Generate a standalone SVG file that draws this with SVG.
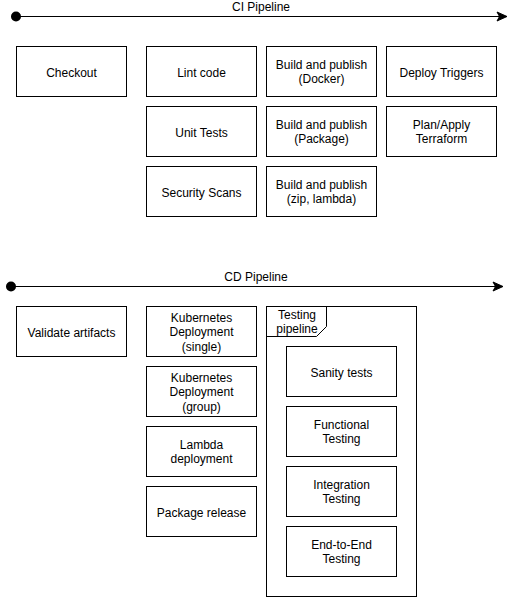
<svg xmlns="http://www.w3.org/2000/svg" width="518" height="597" viewBox="0 0 518 597">
<style>
rect.n{fill:#fff;stroke:#000;stroke-width:1}
text{font-family:"Liberation Sans",Arial,Helvetica,sans-serif;font-size:12px;fill:#000;text-anchor:middle}
.c{stroke:#000;stroke-width:1;fill:none}
</style>
<defs>
<marker id="arr" markerWidth="12" markerHeight="12" refX="11" refY="6" orient="auto" markerUnits="userSpaceOnUse">
<path d="M1,1.5 L11,6 L1,10.5 L3.5,6 Z" fill="#000" stroke="#000" stroke-width="1"/>
</marker>
<marker id="dot" markerWidth="12" markerHeight="12" refX="6" refY="6" orient="auto" markerUnits="userSpaceOnUse">
<circle cx="6" cy="6" r="5" fill="#000"/>
</marker>
</defs>
<g id="connectors">
<line class="c" x1="16" y1="16.5" x2="507" y2="16.5" marker-start="url(#dot)" marker-end="url(#arr)"/>
<text x="261" y="11">CI Pipeline</text>
<line class="c" x1="11" y1="286.5" x2="503" y2="286.5" marker-start="url(#dot)" marker-end="url(#arr)"/>
<text x="256" y="281">CD Pipeline</text>
</g>
<g id="checkout"><rect class="n" x="16.5" y="46.5" width="110" height="50"/><text x="71.5" y="77">Checkout</text></g>
<g id="lint"><rect class="n" x="146.5" y="46.5" width="110" height="50"/><text x="201.5" y="77">Lint code</text></g>
<g id="unit"><rect class="n" x="146.5" y="106.5" width="110" height="50"/><text x="201.5" y="137">Unit Tests</text></g>
<g id="security"><rect class="n" x="146.5" y="166.5" width="110" height="50"/><text x="201.5" y="197">Security Scans</text></g>
<g id="docker"><rect class="n" x="266.5" y="46.5" width="110" height="50"/><text x="321.5" y="69">Build and publish</text><text x="321.5" y="83">(Docker)</text></g>
<g id="package"><rect class="n" x="266.5" y="106.5" width="110" height="50"/><text x="321.5" y="129">Build and publish</text><text x="321.5" y="143">(Package)</text></g>
<g id="zip"><rect class="n" x="266.5" y="166.5" width="110" height="50"/><text x="321.5" y="189">Build and publish</text><text x="321.5" y="203">(zip, lambda)</text></g>
<g id="deploy-triggers"><rect class="n" x="386.5" y="46.5" width="110" height="50"/><text x="441.5" y="77">Deploy Triggers</text></g>
<g id="terraform"><rect class="n" x="386.5" y="106.5" width="110" height="50"/><text x="441.5" y="129">Plan/Apply</text><text x="441.5" y="143">Terraform</text></g>
<g id="validate"><rect class="n" x="16.5" y="306.5" width="110" height="50"/><text x="71.5" y="337">Validate artifacts</text></g>
<g id="k8s-single"><rect class="n" x="146.5" y="306.5" width="110" height="50"/><text x="201.5" y="321.5">Kubernetes</text><text x="201.5" y="336">Deployment</text><text x="201.5" y="350.5">(single)</text></g>
<g id="k8s-group"><rect class="n" x="146.5" y="366.5" width="110" height="50"/><text x="201.5" y="381.5">Kubernetes</text><text x="201.5" y="396">Deployment</text><text x="201.5" y="410.5">(group)</text></g>
<g id="lambda"><rect class="n" x="146.5" y="426.5" width="110" height="50"/><text x="201.5" y="449">Lambda</text><text x="201.5" y="463">deployment</text></g>
<g id="pkg-release"><rect class="n" x="146.5" y="486.5" width="110" height="50"/><text x="201.5" y="517">Package release</text></g>
<g id="testing-pipeline">
<rect class="n" x="266.5" y="306.5" width="150" height="290"/>
<path class="c" d="M266.5,336.5 H316.5 L326.5,326.5 V306.5"/>
<text x="297" y="318.5">Testing</text><text x="297" y="332.5">pipeline</text>
</g>
<g id="sanity"><rect class="n" x="286.5" y="346.5" width="110" height="50"/><text x="341.5" y="377">Sanity tests</text></g>
<g id="functional"><rect class="n" x="286.5" y="406.5" width="110" height="50"/><text x="341.5" y="429">Functional</text><text x="341.5" y="443">Testing</text></g>
<g id="integration"><rect class="n" x="286.5" y="466.5" width="110" height="50"/><text x="341.5" y="489">Integration</text><text x="341.5" y="503">Testing</text></g>
<g id="e2e"><rect class="n" x="286.5" y="526.5" width="110" height="50"/><text x="341.5" y="549">End-to-End</text><text x="341.5" y="563">Testing</text></g>
</svg>
